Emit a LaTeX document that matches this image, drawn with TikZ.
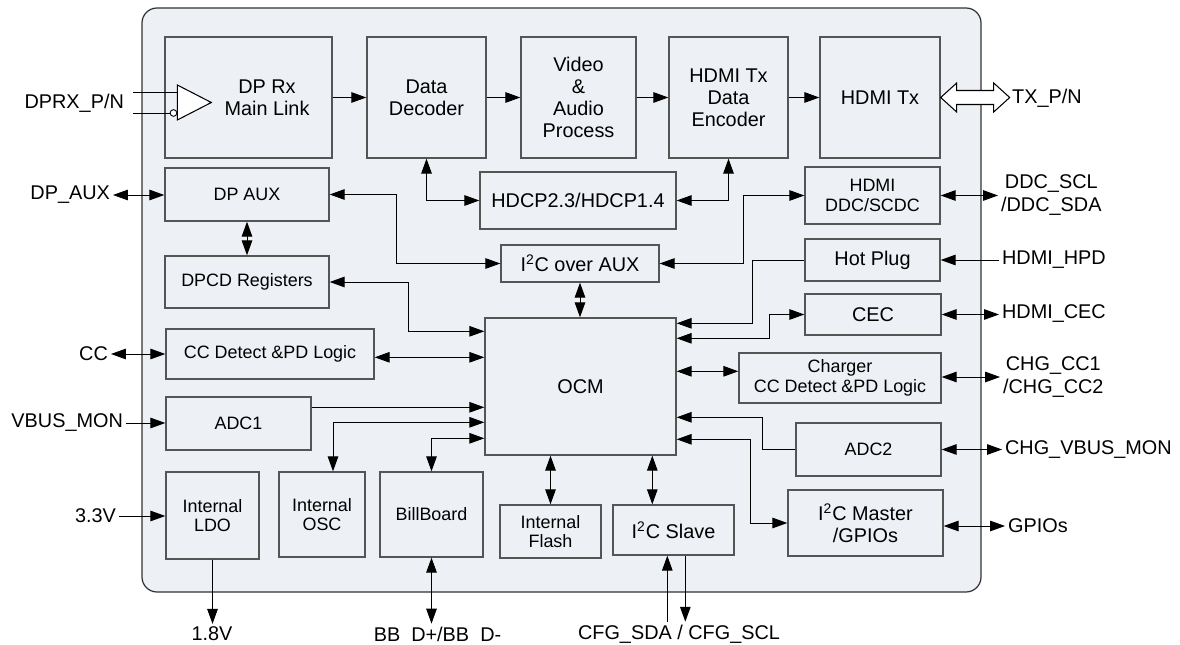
\documentclass[tikz,border=0pt]{standalone}
\usepackage{fontspec}
\setmainfont{Liberation Sans}
\usetikzlibrary{calc}
\usetikzlibrary{arrows.meta}

\definecolor{chipfill}{RGB}{237,240,245}
\definecolor{boxline}{RGB}{85,85,85}

\newcommand{\bigtxt}{\fontsize{11.3}{12.6}\selectfont}
\newcommand{\smalltxt}{\fontsize{10.2}{11}\selectfont}

\begin{document}
\begin{tikzpicture}[x=0.02cm, y=-0.02cm, >={Triangle[length=8.5pt,width=6pt]}, line width=0.55pt]
\tikzset{blk/.style={draw=boxline,line width=0.8pt,fill=chipfill,align=center,inner sep=0,font=\bigtxt},
  sblk/.style={blk,font=\smalltxt},
  pin/.style={inner sep=1.5pt,align=center,font=\bigtxt}}

\useasboundingbox (0,0) rectangle (1180,645);

% chip
\draw[draw=black!80,fill=chipfill,rounded corners=0.3cm,line width=0.7pt] (142,8) rectangle (981,592);

% main link - top row
\node[blk,minimum width=3.34cm,minimum height=2.42cm] (rx) at (248.5,97.5) {};
\node[font=\bigtxt,align=center] (rxtxt) at (267,98) {DP Rx\\Main Link};
\node[blk,minimum width=2.38cm,minimum height=2.42cm] (dec) at (426.5,97.5) {Data\\Decoder};
\node[blk,minimum width=2.30cm,minimum height=2.42cm] (vap) at (578.5,97.5) {Video\\\&\\Audio\\Process};
\node[blk,minimum width=2.38cm,minimum height=2.42cm] (enc) at (728.5,97.5) {HDMI Tx\\Data\\Encoder};
\node[blk,minimum width=2.40cm,minimum height=2.42cm] (htx) at (880,97.5) {HDMI Tx};

% receiver buffer
\coordinate (bufA) at ($(rx.west)+(13,-12.5)$);
\coordinate (bufB) at ($(rx.west)+(13,22.5)$);
\coordinate (bufC) at ($(rx.west)+(47,5)$);
\draw[fill=white,line width=0.6pt] (bufA) -- (bufC) -- (bufB) -- cycle;
\coordinate (inP) at (133,92);
\coordinate (inN) at (133,113);
\draw (inP) -- (inP -| bufA);
\draw (inN) -- ++(37,0);
\draw[fill=white,line width=0.5pt] ($(inN)+(40.5,0)$) circle (1.9pt);

% aux / hdcp
\node[sblk,minimum width=3.28cm,minimum height=1.06cm] (aux) at (247,194.5) {DP AUX};
\node[sblk,minimum width=3.28cm,minimum height=1.04cm] (dpcd) at (247,282) {DPCD Registers};
\node[blk,minimum width=3.92cm,minimum height=1.14cm] (hdcp) at (578,200.5) {HDCP2.3/HDCP1.4};
\node[blk,minimum width=3.16cm,minimum height=0.74cm] (i2caux) at (580,263.5) {I\textsuperscript{2}C over AUX};
\node[sblk,minimum width=2.70cm,minimum height=1.14cm] (ddc) at (872.5,195.5) {HDMI\\DDC/SCDC};
\node[blk,minimum width=2.70cm,minimum height=0.84cm] (hpd) at (872.5,260) {Hot Plug};
\node[blk,minimum width=2.72cm,minimum height=0.82cm] (cec) at (873,314.5) {CEC};

% ocm and around
\node[blk,minimum width=3.82cm,minimum height=2.74cm] (ocm) at (580.5,386.5) {OCM};
\node[sblk,minimum width=4.16cm,minimum height=1.00cm] (ccd) at (270,354) {CC Detect \&PD Logic};
\node[sblk,minimum width=4.04cm,minimum height=1.00cm] (chg) at (840,378) {Charger\\CC Detect \&PD Logic};
\node[sblk,minimum width=2.90cm,minimum height=1.06cm] (adc1) at (238.5,423.5) {ADC1};
\node[sblk,minimum width=2.90cm,minimum height=1.06cm] (adc2) at (868.5,449.5) {ADC2};

% bottom row
\node[sblk,minimum width=1.86cm,minimum height=1.74cm] (ldo) at (212.5,515.5) {Internal\\LDO};
\node[sblk,minimum width=1.72cm,minimum height=1.70cm] (osc) at (322,514.5) {Internal\\OSC};
\node[sblk,minimum width=2.06cm,minimum height=1.70cm] (bb) at (431.5,514.5) {BillBoard};
\node[sblk,minimum width=2.02cm,minimum height=1.06cm] (flash) at (550.5,531.5) {Internal\\Flash};
\node[blk,minimum width=2.42cm,minimum height=1.00cm] (slave) at (673.5,530) {I\textsuperscript{2}C Slave};
\node[blk,minimum width=3.10cm,minimum height=1.32cm] (mst) at (865.5,523) {I\textsuperscript{2}C Master\\/GPIOs};

% ports on the ocm
\coordinate (oL1) at ($(ocm.north west)+(0,14)$);
\coordinate (oL2) at ($(ocm.north west)+(0,40)$);
\coordinate (oL3) at ($(ocm.north west)+(0,90)$);
\coordinate (oL4) at ($(ocm.north west)+(0,105)$);
\coordinate (oL5) at ($(ocm.north west)+(0,121)$);
\coordinate (oR1) at ($(ocm.north east)+(0,6)$);
\coordinate (oR2) at ($(ocm.north east)+(0,21)$);
\coordinate (oR3) at ($(ocm.north east)+(0,54)$);
\coordinate (oR4) at ($(ocm.north east)+(0,100)$);
\coordinate (oR5) at ($(ocm.north east)+(0,122)$);
\coordinate (oscT) at ($(osc.north)+(11,0)$);
\coordinate (slvT) at ($(slave.north west)+(40,0)$);
\coordinate (sdaT) at ($(slave.south west)+(55,0)$);
\coordinate (sclT) at ($(slave.south west)+(73,0)$);

% data path
\draw[->] (rx) -- (dec);
\draw[->] (dec) -- (vap);
\draw[->] (vap) -- (enc);
\draw[->] (enc) -- (htx);
\draw[<->] (dec.south) |- (hdcp.west);
\draw[<->] (enc.south) |- (hdcp.east);
\draw[fill=white,line width=0.6pt] (htx.east) -- ++(16,-14.5) -- ++(0,7.5) -- ++(37,0) -- ++(0,-7.5) -- ++(16,14.5)
  -- ++(-16,14.5) -- ++(0,-7.5) -- ++(-37,0) -- ++(0,7.5) -- cycle;

% control paths
\draw[<->] (aux) -- (dpcd);
\draw[<->] (aux.east) -- ++(67,0) |- (i2caux.west);
\draw[<->] (i2caux.east) -- ++(84,0) |- (ddc.west);
\draw[<->] (i2caux.south) -- (i2caux.south |- ocm.north);
\draw[<->] (dpcd.east) -- ++(79,0) |- (oL1);
\draw[<->] (oL2 -| ccd.east) -- (oL2);
\draw[->] (oL3 -| adc1.east) -- (oL3);
\draw[<->] (oL4) -| (oscT);
\draw[<->] (oL5) -| (bb.north);
\draw[<->] (flash.north) -- (flash.north |- ocm.south);
\draw[<->] (slvT) -- (slvT |- ocm.south);
\draw[->] (hpd.west) -- ++(-52,0) |- (oR1);
\draw[<->] (oR2) -- ++(93,0) |- (cec.west);
\draw[<->] (oR3) -- (oR3 -| chg.west);
\draw[->] (adc2.west) -- ++(-33,0) |- (oR4);
\draw[<->] (oR5) -- ++(74,0) |- (mst.west);

% pins left
\node[pin,anchor=east] (pdprx) at (127,103) {DPRX\_P/N};
\node[pin,anchor=east] (paux) at (113,195) {DP\_AUX};
\node[pin,anchor=east] (pcc) at (111,354) {CC};
\node[pin,anchor=east] (pvbus) at (126,423) {VBUS\_MON};
\node[pin,anchor=east] (p33) at (119,516) {3.3V};
\draw[<->] (paux.east) -- (paux.east -| aux.west);
\draw[<->] (pcc.east) -- (pcc.east -| ccd.west);
\draw[->] (pvbus.east) -- (pvbus.east -| adc1.west);
\draw[->] (p33.east) -- (p33.east -| ldo.west);

% pins right
\node[pin,anchor=west] (ptx) at (1009,98) {TX\_P/N};
\node[pin,anchor=west] (pddc) at (998,195) {DDC\_SCL\\/DDC\_SDA};
\node[pin,anchor=west] (phpd) at (999,260) {HDMI\_HPD};
\node[pin,anchor=west] (pcec) at (999,314) {HDMI\_CEC};
\node[pin,anchor=west] (pchg) at (1000,377) {CHG\_CC1\\/CHG\_CC2};
\node[pin,anchor=west] (pvmon) at (1002,450) {CHG\_VBUS\_MON};
\node[pin,anchor=west] (pgpio) at (1005,526) {GPIOs};
\draw[<->] (ddc.east) -- (ddc.east -| pddc.west);
\draw[->] (phpd.west) -- (phpd.west -| hpd.east);
\draw[<->] (cec.east) -- (cec.east -| pcec.west);
\draw[<->] (pchg.west -| chg.east) -- (pchg.west);
\draw[<->] (adc2.east) -- (adc2.east -| pvmon.west);
\draw[<->] (pgpio.west -| mst.east) -- (pgpio.west);

% pins bottom
\node[pin] (p18) at (212,634) {1.8V};
\node[pin] (pbb) at (437.5,634) {BB\ \ D+/BB\ \ D-};
\node[pin] (pcfg) at (679,634) {CFG\_SDA / CFG\_SCL};
\draw[->] (ldo.south) -- (ldo.south |- p18.north);
\draw[<->] (bb.south) -- (bb.south |- pbb.north);
\draw[->] (sdaT |- pcfg.north) -- (sdaT);
\draw[->] (sclT) -- (sclT |- pcfg.north);

\end{tikzpicture}
\end{document}
